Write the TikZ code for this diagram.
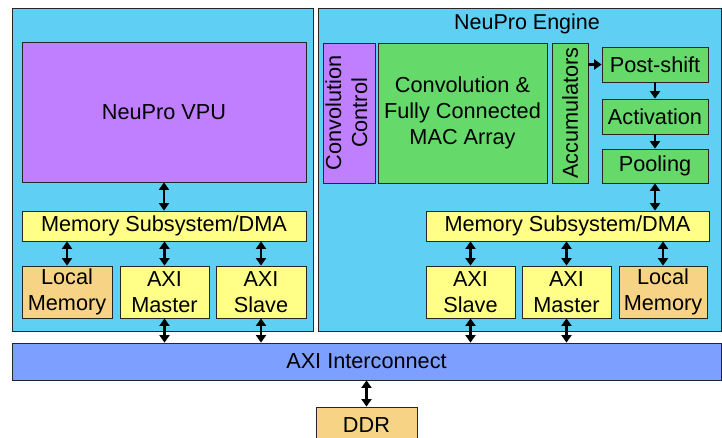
\documentclass[tikz,border=0pt]{standalone}
\usepackage{fontspec}
\setmainfont{Liberation Sans}
\usetikzlibrary{arrows.meta}
\definecolor{contc}{RGB}{95,207,243}
\definecolor{purp}{RGB}{191,127,255}
\definecolor{grn}{RGB}{102,217,107}
\definecolor{yel}{RGB}{255,255,136}
\definecolor{orng}{RGB}{247,212,133}
\definecolor{icb}{RGB}{125,159,255}
\newcommand\mybox[7]{%
  \node[#6, minimum width={(#4-#2)*1pt}, minimum height={(#5-#3)*1pt}]
    (#1) at ({(#2+#4)/2},{(#3+#5)/2}) {#7};}
\begin{document}
\begin{tikzpicture}[x=1pt,y=-1pt,
  base/.style={draw=black!85, line width=0.8pt, inner sep=0pt, align=center,
    font=\fontsize{21.7}{26}\selectfont},
  cont/.style={base, fill=contc, line width=1pt},
  pbox/.style={base, fill=purp},
  gbox/.style={base, fill=grn},
  ybox/.style={base, fill=yel},
  obox/.style={base, fill=orng},
  ibox/.style={base, fill=icb},
  dar/.style={{Triangle[length=7.5pt,width=10pt]}-{Triangle[length=7.5pt,width=10pt]}, line width=2.2pt},
  sar/.style={-{Triangle[length=7.5pt,width=10pt]}, line width=2.2pt}]
\useasboundingbox (0,0) rectangle (722,438);
% containers
\mybox{vpuc}{12}{9}{313}{331}{cont}{}
\mybox{engc}{318}{9}{721}{331}{cont}{}
\node[font=\fontsize{21.5}{26}\selectfont, inner sep=0pt] (etitle) at (527,24) {NeuPro Engine};
% left side
\mybox{vpu}{22}{42}{306}{182}{pbox}{NeuPro VPU}
\mybox{meml}{22}{211}{306}{241}{ybox}{Memory Subsystem/DMA}
\mybox{lml}{22}{266}{112}{318}{obox}{Local\\Memory}
\mybox{axml}{120}{266}{209}{318}{ybox}{AXI\\Master}
\mybox{axsl}{216}{266}{306}{318}{ybox}{AXI\\Slave}
% right side
\mybox{cc}{326}{43}{372}{183}{pbox}{\rotatebox{90}{\begin{tabular}{@{}c@{}}Convolution\\Control\end{tabular}}}
\mybox{mac}{378}{43}{547}{183}{gbox}{Convolution \&\\Fully Connected\\MAC Array}
\mybox{acc}{552}{43}{588}{183}{gbox}{\rotatebox{90}{Accumulators}}
\mybox{ps}{602}{47}{708}{82}{gbox}{Post-shift}
\mybox{act}{602}{99}{708}{134}{gbox}{Activation}
\mybox{pool}{602}{149}{708}{183}{gbox}{Pooling}
\mybox{memr}{426}{211}{709}{241}{ybox}{Memory Subsystem/DMA}
\mybox{axsr}{426}{266}{515}{318}{ybox}{AXI\\Slave}
\mybox{axmr}{522}{266}{611}{318}{ybox}{AXI\\Master}
\mybox{lmr}{619}{266}{707}{318}{obox}{Local\\Memory}
% bottom
\mybox{ic}{12}{343}{721}{380}{ibox}{AXI Interconnect}
\mybox{ddr}{316}{407}{417}{444}{obox}{DDR}
% connectors left
\draw[dar] (vpu.south) -- (meml.north);
\draw[dar] (meml.south -| lml.north) -- (lml.north);
\draw[dar] (meml.south -| axml.north) -- (axml.north);
\draw[dar] (meml.south -| axsl.north) -- (axsl.north);
\draw[dar] (axml.south) -- (ic.north -| axml.south);
\draw[dar] (axsl.south) -- (ic.north -| axsl.south);
% connectors right
\draw[sar] (acc.east |- ps.west) -- (ps.west);
\draw[sar] (ps.south) -- (act.north);
\draw[sar] (act.south) -- (pool.north);
\draw[dar] (pool.south) -- (memr.north -| pool.south);
\draw[dar] (memr.south -| axsr.north) -- (axsr.north);
\draw[dar] (memr.south -| axmr.north) -- (axmr.north);
\draw[dar] (memr.south -| lmr.north) -- (lmr.north);
\draw[dar] (axsr.south) -- (ic.north -| axsr.south);
\draw[dar] (axmr.south) -- (ic.north -| axmr.south);
\draw[dar] (ic.south -| ddr.north) -- (ddr.north);
\end{tikzpicture}
\end{document}
